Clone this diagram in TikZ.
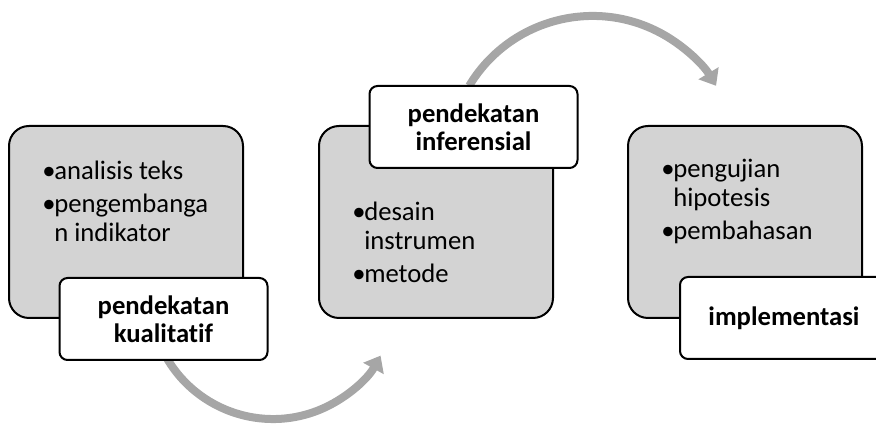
\documentclass[tikz,border=0pt]{standalone}
\usepackage{fontspec}
\setmainfont{Carlito}[Ligatures=NoCommon]
\usetikzlibrary{arrows.meta}
\definecolor{stagegray}{RGB}{211,211,211}
\definecolor{flowgray}{RGB}{166,166,166}
\newcommand{\itm}{\makebox[9pt][l]{•}}
\newcommand{\hng}{\hspace*{9pt}}

\begin{document}
\begin{tikzpicture}[x=0.75pt,y=-0.75pt,
  stage/.style={draw=black,line width=1.5pt,fill=stagegray,rounded corners=15pt,minimum width=175.5pt,minimum height=144pt,inner sep=0pt},
  tag/.style={draw=black,line width=1.5pt,fill=white,rounded corners=6pt,minimum width=156pt,minimum height=61.5pt,inner sep=0pt,align=center,font=\fontsize{20}{21}\selectfont\bfseries},
  items/.style={anchor=base west,align=left,inner sep=0pt,font=\fontsize{20}{22}\selectfont},
  flow/.style={flowgray,line width=6pt,-{Triangle[length=11pt,width=17pt]}}]
\useasboundingbox (0,0) rectangle (876,427);
\coordinate (f1) at (161.5,348);
\coordinate (f2) at (469.2,85.8);
\draw [flow] (f1) arc [start angle=155,end angle=29,radius=123];
\draw [flow] (f2) arc [start angle=-149,end angle=-31,radius=144];
\node [stage] (s1) at (126,222) {};
\node [items] (i1) at (42,242) {\itm analisis teks\\[3pt]\itm pengembanga\\\hng n indikator};
\node [tag] (t1) at (163.5,319) {pendekatan\\kualitatif};
\node [stage] (s2) at (436,222) {};
\node [items] (i2) at (352,283) {\itm desain\\\hng instrumen\\[3pt]\itm metode};
\node [tag] (t2) at (473.5,127) {pendekatan\\inferensial};
\node [stage] (s3) at (745,222) {};
\node [items] (i3) at (661,240) {\itm pengujian\\\hng hipotesis\\[3pt]\itm pembahasan};
\node [tag] (t3) at (784,318) {implementasi};
\end{tikzpicture}
\end{document}
